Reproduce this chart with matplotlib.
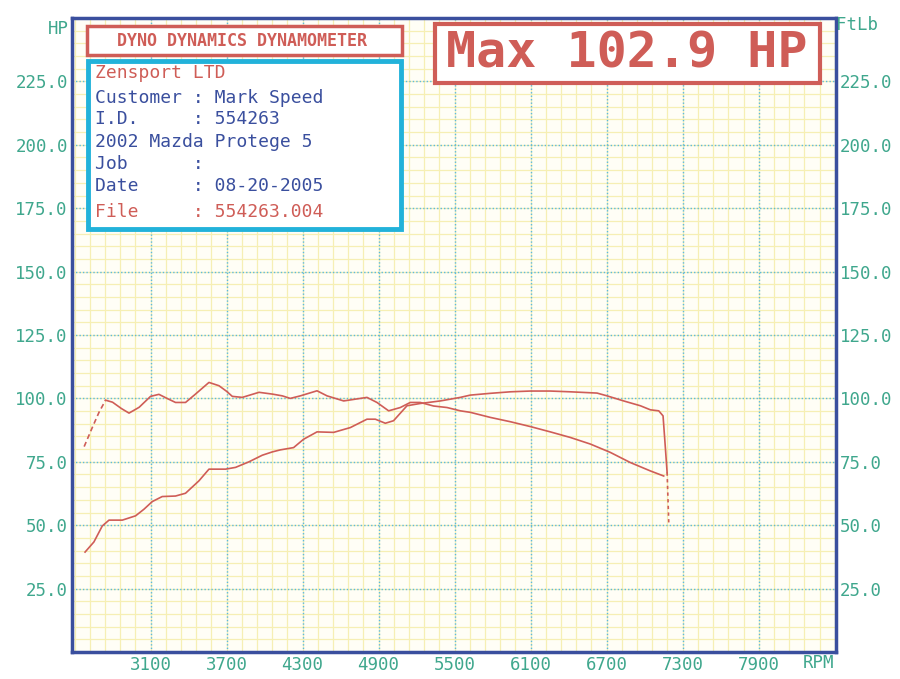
import matplotlib
matplotlib.use("Agg")
import matplotlib.pyplot as plt
from matplotlib.patches import Rectangle

# --- dados ---
rpm_hp = [2583, 2653, 2719, 2772, 2877, 2982, 3048, 3113, 3192, 3297, 3376,
          3482, 3561, 3692, 3771, 3877, 3982, 4061, 4124, 4229, 4308, 4414,
          4545, 4677, 4808, 4874, 4953, 5018, 5124, 5229, 5387, 5545, 5624,
          5782, 5940, 6097, 6255, 6413, 6624, 6703, 6834, 6966, 7045, 7111,
          7145, 7164, 7177]
hp = [39.4, 43.4, 49.7, 52.0, 52.0, 53.7, 56.3, 59.3, 61.3, 61.5, 62.6,
      67.5, 72.1, 72.1, 72.8, 75.0, 77.6, 78.9, 79.7, 80.6, 83.9, 86.8,
      86.6, 88.5, 91.8, 91.8, 90.2, 91.2, 97.1, 98.0, 99.0, 100.4, 101.3,
      102.0, 102.6, 102.9, 102.9, 102.6, 102.1, 101.0, 99.0, 97.1, 95.5, 95.1,
      93.1, 80.0, 70.8]
rpm_hp_tail = [7177, 7190]
hp_tail = [70.8, 51.0]

rpm_tq_start = [2576, 2640, 2693, 2745]
tq_start = [81.0, 88.5, 94.5, 99.3]
rpm_tq = [2745, 2800, 2870, 2930, 3010, 3100, 3166, 3230, 3297, 3376, 3450,
          3561, 3640, 3700, 3745, 3824, 3956, 4061, 4140, 4203, 4282, 4414,
          4493, 4624, 4756, 4808, 4887, 4979, 5071, 5150, 5229, 5334, 5440,
          5545, 5624, 5782, 5940, 6097, 6255, 6413, 6571, 6729, 6887, 7045,
          7150]
tq = [99.3, 98.5, 96.0, 94.2, 96.5, 100.8, 101.6, 100.0, 98.4, 98.4, 101.5,
      106.3, 105.0, 102.8, 100.8, 100.4, 102.4, 101.7, 101.0, 100.0, 101.0, 103.0,
      101.0, 99.0, 100.0, 100.4, 98.4, 95.1, 96.4, 98.4, 98.4, 97.0, 96.4,
      95.1, 94.5, 92.5, 90.8, 88.9, 86.8, 84.6, 82.0, 78.7, 74.7, 71.4,
      69.4]

x_ticks = [3100, 3700, 4300, 4900, 5500, 6100, 6700, 7300, 7900]
y_ticks = [25, 50, 75, 100, 125, 150, 175, 200, 225]

info = [("Zensport LTD", "red"),
        ("Customer : Mark Speed", "blue"),
        ("I.D.     : 554263", "blue"),
        ("2002 Mazda Protege 5", "blue"),
        ("Job      :", "blue"),
        ("Date     : 08-20-2005", "blue"),
        ("File     : 554263.004", "red")]

VERMELHO = "#cf5d57"
AZUL = "#3a4f9e"
CIANO = "#22b2da"
VERDE = "#3fa78d"
MONO = "DejaVu Sans Mono"

fig = plt.figure(figsize=(9, 6.79), dpi=100)
W, H = 900, 679
L, R, T, B = 72, 836, 18, 652
ax = fig.add_axes([L / W, 1 - B / H, (R - L) / W, (B - T) / H])
ax.set_xlim(2480, 8510)
ax.set_ylim(0, 250)
ax.set_facecolor("#fffef6")

# grade fina amarela
for x in range(2500, 8510, 120):
    ax.axvline(x, color="#f6efb4", lw=0.9, zorder=0)
for y in range(5, 250, 5):
    ax.axhline(y, color="#f6efb4", lw=0.9, zorder=0)
# grade principal azul pontilhada
for x in x_ticks:
    ax.axvline(x, color="#5cb9e0", lw=1.0, ls=(0, (1, 1.5)), zorder=1)
for y in y_ticks:
    ax.axhline(y, color="#5cb9e0", lw=1.0, ls=(0, (1, 1.5)), zorder=1)

# curvas
ax.plot(rpm_hp, hp, color=VERMELHO, lw=1.2, zorder=3)
ax.plot(rpm_hp_tail, hp_tail, color=VERMELHO, lw=1.2, ls=(0, (2, 2)), zorder=3)
ax.plot(rpm_tq_start, tq_start, color=VERMELHO, lw=1.2, ls=(0, (3, 2)), zorder=3)
ax.plot(rpm_tq, tq, color=VERMELHO, lw=1.2, zorder=3)

for s in ax.spines.values():
    s.set_color(AZUL)
    s.set_linewidth(2.5)
    s.set_zorder(6)

ax.set_xticks(x_ticks)
ax.set_xticklabels([str(v) for v in x_ticks])
ax.set_yticks(y_ticks)
ax.set_yticklabels([f"{v:.1f}" for v in y_ticks])
ax.tick_params(length=0, colors=VERDE, labelsize=12.5, pad=3,
               labelright=True, right=False)
for lab in ax.get_xticklabels() + ax.get_yticklabels():
    lab.set_fontfamily(MONO)


def fx(px):
    return (px - L) / (R - L)


def fy(py):
    return (B - py) / (B - T)


tr = ax.transAxes
# caixa titulo
ax.add_patch(Rectangle((fx(87), fy(55)), fx(402) - fx(87), fy(26) - fy(55),
                       transform=tr, facecolor="white", edgecolor=VERMELHO,
                       lw=2.5, zorder=5))
ax.text(fx(242), fy(41), "DYNO DYNAMICS DYNAMOMETER", transform=tr,
        ha="center", va="center", color=VERMELHO, fontsize=12,
        weight="bold", family=MONO, zorder=6)

# caixa de dados
ax.add_patch(Rectangle((fx(88), fy(229)), fx(401) - fx(88), fy(61) - fy(229),
                       transform=tr, facecolor="white", edgecolor=CIANO,
                       lw=3.5, zorder=5))
linhas_y = [73, 98, 119, 142, 164, 186, 212]
for (txt, cor), py in zip(info, linhas_y):
    ax.text(fx(95), fy(py), txt, transform=tr, ha="left", va="center",
            color=VERMELHO if cor == "red" else AZUL, fontsize=13,
            family=MONO, zorder=6)

# caixa max
ax.add_patch(Rectangle((fx(435), fy(83)), fx(820) - fx(435), fy(24) - fy(83),
                       transform=tr, facecolor="white", edgecolor=VERMELHO,
                       lw=3, zorder=5))
ax.text(fx(627), fy(54), "Max 102.9 HP", transform=tr, ha="center",
        va="center", color=VERMELHO, fontsize=36, weight="bold",
        family=MONO, zorder=6)

# rotulos dos eixos
fig.text(58 / W, 1 - 29 / H, "HP", ha="center", va="center", color=VERDE,
         fontsize=12.5, family=MONO)
fig.text(857 / W, 1 - 25 / H, "FtLb", ha="center", va="center", color=VERDE,
         fontsize=12.5, family=MONO)
fig.text(818 / W, 1 - 663 / H, "RPM", ha="center", va="center", color=VERDE,
         fontsize=12.5, family=MONO)

fig.savefig("out.png", dpi=100)
